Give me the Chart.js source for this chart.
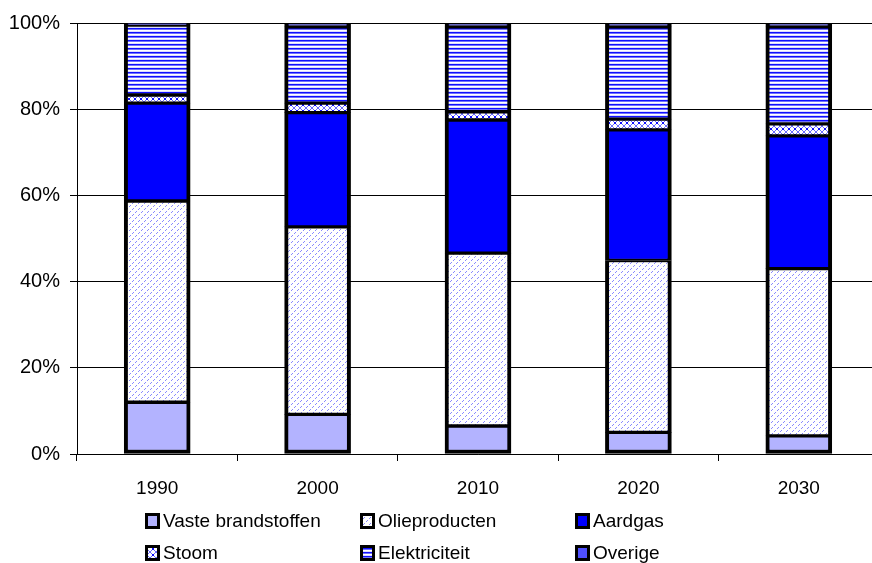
<!DOCTYPE html>
<html>
<head>
<meta charset="utf-8">
<script src="https://cdn.jsdelivr.net/npm/chart.js@4.4.0/dist/chart.umd.min.js"></script>
<style>
    html, body { margin: 0; padding: 0; background: #fff; overflow: hidden; }
    #wrap { width: 900px; height: 563px; position: relative; }
</style>
</head>
<body>
<div id="wrap"><canvas id="energyChart"></canvas></div>
<script>
const years = ['1990', '2000', '2010', '2020', '2030'];
const vasteBrandstoffen = [12.0, 9.2, 6.5, 5.0, 4.2];
const olieproducten = [46.7, 43.5, 40.1, 39.9, 38.8];
const aardgas = [22.7, 26.5, 30.9, 30.3, 30.8];
const stoom = [1.9, 2.2, 1.9, 2.5, 2.8];
const elektriciteit = [16.2, 17.7, 19.7, 21.4, 22.5];
const overige = [0.5, 0.9, 0.9, 0.9, 0.9];
const yTickValues = [0, 20, 40, 60, 80, 100];

const FONT = '"Liberation Sans", Arial, sans-serif';

// small tiles for the hatched fills
const makePattern = (w, h, draw) => {
    let c = document.createElement('canvas');
    c.width = w;
    c.height = h;
    let cx = c.getContext('2d');
    cx.fillStyle = '#ffffff';
    cx.fillRect(0, 0, w, h);
    draw(cx);
    return document.getElementById('energyChart').getContext('2d').createPattern(c, 'repeat');
};

const olieFill = makePattern(6, 6, (cx) => {
    cx.fillStyle = '#8a8aff';
    for (let i = 0; i < 6; i++) {
        if (i % 3 == 2) continue;
        cx.fillRect(i, 5 - i, 1, 1);
    }
});

const stoomFill = makePattern(6, 6, (cx) => {
    cx.fillStyle = '#6a6aff';
    for (let i = 0; i < 6; i++) {
        cx.fillRect(i, i, 1, 1);
        cx.fillRect(i, 5 - i, 1, 1);
    }
    cx.fillStyle = '#1010ff';
    cx.fillRect(2, 2, 2, 2);
});

const elekFill = makePattern(4, 4, (cx) => {
    cx.fillStyle = '#0f0fff';
    cx.fillRect(0, 0, 4, 1);
    cx.fillStyle = '#7070ff';
    cx.fillRect(0, 1, 4, 1);
    cx.fillStyle = '#dcdcff';
    cx.fillRect(0, 3, 4, 1);
});

const inner = { left: 4, right: 4, top: 2, bottom: 2 };

const seriesList = [
    { label: 'Vaste brandstoffen', data: vasteBrandstoffen, fill: '#b3b3ff', bw: { left: 4, right: 4, top: 2, bottom: 4 } },
    { label: 'Olieproducten', data: olieproducten, fill: olieFill, bw: inner },
    { label: 'Aardgas', data: aardgas, fill: '#0000ff', bw: inner },
    { label: 'Stoom', data: stoom, fill: stoomFill, bw: inner },
    { label: 'Elektriciteit', data: elektriciteit, fill: elekFill, bw: inner },
    { label: 'Overige', data: overige, fill: '#5050ff', bw: { left: 4, right: 4, top: 4, bottom: 2 } },
];

// legend in a 3 column grid, drawn below the axis
const legendSlots = [
    { x: 145, y: 521 }, { x: 360, y: 521 }, { x: 575, y: 521 },
    { x: 145, y: 553 }, { x: 360, y: 553 }, { x: 575, y: 553 },
];

const gridLegend = {
    id: 'gridLegend',
    afterDraw(chart) {
        let ctx = chart.ctx;
        ctx.save();
        chart.data.datasets.forEach((ds, i) => {
            let slot = legendSlots[i];
            ctx.fillStyle = ds.backgroundColor;
            ctx.fillRect(slot.x, slot.y - 8, 15, 16);
            ctx.lineWidth = 3;
            ctx.strokeStyle = '#000';
            ctx.strokeRect(slot.x + 1.5, slot.y - 6.5, 12, 13);
            ctx.fillStyle = '#000';
            ctx.font = '19px ' + FONT;
            ctx.textBaseline = 'middle';
            ctx.textAlign = 'left';
            ctx.fillText(ds.label, slot.x + 18, slot.y + 1);
        });
        ctx.restore();
    },
};

new Chart(document.getElementById('energyChart'), {
    type: 'bar',
    data: {
        labels: years,
        datasets: seriesList.map((s) => ({
            label: s.label,
            data: s.data,
            backgroundColor: s.fill,
            borderColor: '#000',
            borderWidth: s.bw,
            borderSkipped: false,
            barThickness: 66,
        })),
    },
    options: {
        responsive: true,
        maintainAspectRatio: false,
        devicePixelRatio: 1,
        animation: false,
        layout: { padding: { top: 23, right: 21, bottom: 59, left: 0 } },
        plugins: {
            legend: { display: false },
            tooltip: { enabled: false },
        },
        scales: {
            x: {
                stacked: true,
                afterFit: (scale) => { scale.height = 50; },
                grid: {
                    display: true,
                    drawOnChartArea: false,
                    offset: true,
                    color: '#000',
                    tickLength: 7,
                },
                border: { display: true, color: '#000', width: 1 },
                ticks: {
                    color: '#000',
                    padding: 16,
                    font: { family: FONT, size: 19 },
                },
            },
            y: {
                stacked: true,
                min: 0,
                max: 100,
                afterFit: (scale) => { scale.width = 77; },
                afterBuildTicks: (scale) => {
                    scale.ticks = yTickValues.map((v) => ({ value: v }));
                },
                grid: { color: '#000', lineWidth: 1, tickLength: 7 },
                border: { display: true, color: '#000', width: 1 },
                ticks: {
                    color: '#000',
                    padding: 10,
                    font: { family: FONT, size: 20 },
                    callback: (v) => v + '%',
                },
            },
        },
    },
    plugins: [gridLegend],
});
</script>
</body>
</html>
